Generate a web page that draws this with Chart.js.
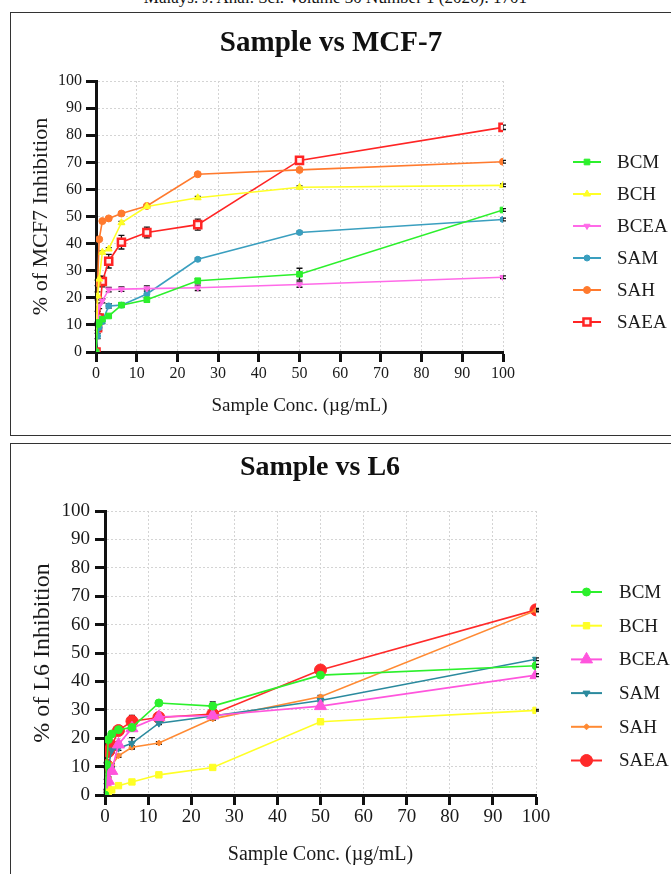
<!DOCTYPE html>
<html>
<head>
<meta charset="utf-8">
<script src="https://cdn.jsdelivr.net/npm/chart.js@4/dist/chart.umd.min.js"></script>
<style>
  body { margin:0; width:671px; height:874px; overflow:hidden; background:#fff; position:relative; font-family:"Liberation Serif", serif; }
  #hdr { position:absolute; left:0; width:671px; top:-12px; text-align:center; font-size:17px; line-height:20px; color:#111; }
  .box { position:absolute; left:10px; width:700px; border:1.5px solid #333; }
  #box1 { top:12px; height:422px; }
  #box2 { top:443px; height:460px; }
  canvas { position:absolute; left:0; }
</style>
</head>
<body>
<div id="hdr">Malays. J. Anal. Sci. Volume 30 Number 1 (2026): 1701</div>
<div class="box" id="box1"></div>
<div class="box" id="box2"></div>
<canvas id="mcf" width="671" height="440" style="top:0"></canvas>
<canvas id="l6" width="671" height="434" style="top:440px"></canvas>
<script>
// concentrations (µg/mL)
const conc = [0, 0.39, 0.78, 1.56, 3.125, 6.25, 12.5, 25, 50, 100];
const labels = ['BCM', 'BCH', 'BCEA', 'SAM', 'SAH', 'SAEA'];
const xTicks = [0, 10, 20, 30, 40, 50, 60, 70, 80, 90, 100];

// --- MCF-7 (% inhibition) ---
const bcmMcf  = [0, 10.2, 10.9, 12.1, 13.3, 17.3, 19.3, 26.3, 28.7, 52.4];
const bchMcf  = [0, 20.7, 26.9, 36.8, 38.0, 47.7, 53.7, 56.9, 60.8, 61.5];
const bceaMcf = [0, 13.0, 17.0, 18.9, 23.0, 23.2, 23.4, 23.7, 24.9, 27.6];
const samMcf  = [0, 5.9, 9.0, 11.3, 17.0, 17.3, 21.4, 34.2, 44.1, 48.9];
const sahMcf  = [0, 25.5, 41.6, 48.3, 49.3, 51.1, 53.9, 65.6, 67.2, 70.2];
const saeaMcf = [0, 9.0, 12.5, 26.0, 33.5, 40.5, 44.1, 47.0, 70.7, 82.9];
// error bars (SD)
const bcmMcfErr  = [0, 0.5, 0.5, 0.5, 0.5, 0.5, 0.8, 0.8, 2.2, 0.5];
const bchMcfErr  = [0, 1.5, 1.0, 0.5, 0.5, 0.5, 0.5, 0.5, 0.5, 0.5];
const bceaMcfErr = [0, 2.0, 1.0, 0.8, 0.8, 0.8, 1.0, 1.0, 1.0, 0.5];
const samMcfErr  = [0, 1.0, 1.0, 0.8, 0.8, 0.8, 1.5, 0.5, 0.5, 0.5];
const sahMcfErr  = [0, 1.0, 0.5, 0.5, 0.5, 0.5, 0.5, 0.5, 0.5, 0.5];
const saeaMcfErr = [0, 1.0, 1.5, 2.0, 2.5, 2.5, 2.0, 2.0, 0.8, 0.8];

// --- L6 (% inhibition) ---
const bcmL6  = [0, 10.7, 19.5, 21.5, 23.0, 23.8, 32.4, 31.3, 42.2, 45.5];
const bchL6  = [0, 0.5, 1.0, 1.8, 3.3, 4.6, 7.1, 9.7, 25.8, 29.8];
const bceaL6 = [0, 3.5, 5.0, 8.5, 17.8, 23.5, 27.5, 28.0, 31.3, 42.2];
const samL6  = [0, 3.0, 10.0, 15.8, 16.5, 18.2, 25.3, 27.8, 33.3, 47.8];
const sahL6  = [0, 1.5, 6.0, 10.5, 13.8, 16.8, 18.3, 26.8, 34.6, 65.0];
const saeaL6 = [0, 10.5, 15.3, 17.3, 22.7, 26.0, 27.3, 28.5, 44.0, 65.2];
const bcmL6Err  = [0, 0.5, 0.5, 0.5, 0.5, 1.0, 0.5, 1.5, 0.5, 0.5];
const bchL6Err  = [0, 0.3, 0.3, 0.3, 0.3, 0.3, 0.3, 0.3, 0.3, 0.3];
const bceaL6Err = [0, 2.0, 1.0, 1.0, 1.0, 1.0, 0.5, 0.5, 0.5, 0.5];
const samL6Err  = [0, 1.0, 1.0, 1.0, 0.8, 2.0, 0.5, 0.5, 0.5, 0.5];
const sahL6Err  = [0, 0.5, 0.5, 0.5, 0.5, 0.5, 0.5, 0.5, 0.5, 0.5];
const saeaL6Err = [0, 1.0, 1.0, 1.0, 0.8, 2.0, 0.5, 0.5, 0.5, 0.5];

const pts = vals => conc.map((x, i) => ({x, y: vals[i]}));

function marker(ctx, ds, x, y) {
  ctx.save();
  ctx.fillStyle = ds.pointBackgroundColor;
  ctx.strokeStyle = ds.pointBorderColor;
  ctx.lineWidth = ds.pointBorderWidth;
  Chart.helpers.drawPoint(ctx, {pointStyle: ds.pointStyle, radius: ds.pointRadius, rotation: ds.pointRotation || 0, borderWidth: ds.pointBorderWidth}, x, y);
  ctx.restore();
}

const errorBars = {
  id: 'errorBars',
  beforeDatasetsDraw(chart) {
    const ctx = chart.ctx, ys = chart.scales.y;
    chart.data.datasets.forEach((ds, di) => {
      const meta = chart.getDatasetMeta(di);
      meta.data.forEach((p, i) => {
        const e = ds.errors[i];
        if (!e) return;
        const yT = ys.getPixelForValue(ds.data[i].y + e), yB = ys.getPixelForValue(ds.data[i].y - e);
        ctx.save();
        ctx.strokeStyle = '#111'; ctx.lineWidth = 1.3;
        ctx.beginPath();
        ctx.moveTo(p.x, yT); ctx.lineTo(p.x, yB);
        ctx.moveTo(p.x - 3, yT); ctx.lineTo(p.x + 3, yT);
        ctx.moveTo(p.x - 3, yB); ctx.lineTo(p.x + 3, yB);
        ctx.stroke();
        ctx.restore();
      });
    });
  }
};

// centred title + legend with line-through markers, placed like the original figure
const sideLegend = {
  id: 'sideLegend',
  afterDraw(chart, args, o) {
    const ctx = chart.ctx;
    ctx.save();
    ctx.fillStyle = '#111';
    ctx.font = 'bold ' + o.tsize + 'px "Liberation Serif"';
    ctx.textAlign = 'center'; ctx.textBaseline = 'middle';
    ctx.fillText(o.title, o.tx, o.ty);
    ctx.restore();
    chart.data.datasets.forEach((ds, i) => {
      const y = o.y0 + i * o.step;
      ctx.save();
      ctx.strokeStyle = ds.borderColor; ctx.lineWidth = 2;
      ctx.beginPath(); ctx.moveTo(o.x1, y); ctx.lineTo(o.x2, y); ctx.stroke();
      ctx.restore();
      marker(ctx, ds, (o.x1 + o.x2) / 2, y);
      ctx.save();
      ctx.fillStyle = '#1a1a1a';
      ctx.font = o.size + 'px "Liberation Serif"';
      ctx.textBaseline = 'middle';
      ctx.fillText(ds.label, o.xt, y + 1);
      ctx.restore();
    });
  }
};

function mkDs(label, vals, errs, color, style, radius, extra) {
  return Object.assign({
    label, data: pts(vals), errors: errs,
    borderColor: color, borderWidth: 1.6,
    pointStyle: style, pointRadius: radius, pointHoverRadius: radius,
    pointBackgroundColor: color, pointBorderColor: color, pointBorderWidth: 1
  }, extra || {});
}

function axisOpts(c) {
  return {
    x: {
      type: 'linear', min: 0, max: 100,
      afterBuildTicks: s => { s.ticks = xTicks.map(v => ({value: v})); },
      afterFit: s => { s.height = c.xh; },
      grid: { color: '#d4d4d4', lineWidth: 1, tickLength: 10, tickColor: '#111', tickWidth: 3 },
      border: { display: true, color: '#111', width: 3, dash: [2, 2] },
      ticks: { color: '#1a1a1a', padding: c.xtp, maxRotation: 0, font: {family: 'Liberation Serif', size: c.tick} },
      title: { display: true, text: 'Sample Conc. (µg/mL)', color: '#1a1a1a', padding: {top: 0, bottom: c.xtb}, font: {family: 'Liberation Serif', size: c.xt} }
    },
    y: {
      min: 0, max: 100,
      afterBuildTicks: s => { s.ticks = xTicks.map(v => ({value: v})); },
      afterFit: s => { s.width = c.yw; },
      grid: { color: '#d4d4d4', lineWidth: 1, tickLength: 10, tickColor: '#111', tickWidth: 3 },
      border: { display: true, color: '#111', width: 3, dash: [2, 2] },
      ticks: { color: '#1a1a1a', padding: c.ytp, font: {family: 'Liberation Serif', size: c.tick} },
      title: { display: true, text: c.ytitle, color: '#1a1a1a', padding: {top: c.ytt, bottom: 0}, font: {family: 'Liberation Serif', size: c.yt} }
    }
  };
}

function makeChart(id, datasets, c) {
  return new Chart(document.getElementById(id), {
    type: 'line',
    data: { datasets },
    plugins: [errorBars, sideLegend],
    options: {
      responsive: false, animation: false,
      layout: { padding: c.pad },
      plugins: {
        legend: { display: false },
        tooltip: { enabled: false },
        title: { display: false },
        sideLegend: c.legend
      },
      scales: axisOpts(c)
    }
  });
}

makeChart('mcf', [
  mkDs('BCM', bcmMcf, bcmMcfErr, '#2cf02c', 'rect', 4),
  mkDs('BCH', bchMcf, bchMcfErr, '#ffff26', 'triangle', 4),
  mkDs('BCEA', bceaMcf, bceaMcfErr, '#ff6ae8', 'triangle', 3.5, {pointRotation: 180}),
  mkDs('SAM', samMcf, samMcfErr, '#3a9fbf', 'circle', 3),
  mkDs('SAH', sahMcf, sahMcfErr, '#ff7a2e', 'circle', 3.5),
  mkDs('SAEA', saeaMcf, saeaMcfErr, '#ff2424', 'rect', 5, {pointBackgroundColor: '#fff0f0', pointBorderWidth: 2.5})
], {
  pad: {left: 20, right: 168, top: 81, bottom: 0},
  xh: 88, yw: 76, xtp: 2, ytp: 4, xtb: 23, ytt: 8, tick: 16, xt: 19, yt: 22,
  ytitle: '% of MCF7 Inhibition',
  legend: {title: 'Sample vs MCF-7', tx: 331, ty: 44, tsize: 29,
           x1: 573, x2: 601, xt: 617, y0: 162, step: 32, size: 19}
});

makeChart('l6', [
  mkDs('BCM', bcmL6, bcmL6Err, '#2cf02c', 'circle', 4),
  mkDs('BCH', bchL6, bchL6Err, '#ffff26', 'rect', 4.5),
  mkDs('BCEA', bceaL6, bceaL6Err, '#ff55dd', 'triangle', 7),
  mkDs('SAM', samL6, samL6Err, '#2b8a9e', 'triangle', 4, {pointRotation: 180}),
  mkDs('SAH', sahL6, sahL6Err, '#ff8a33', 'rectRot', 3),
  mkDs('SAEA', saeaL6, saeaL6Err, '#ff2a2a', 'circle', 6)
], {
  pad: {left: 20, right: 135, top: 71, bottom: 0},
  xh: 79, yw: 85, xtp: 1, ytp: 5, xtb: 7, ytt: 8, tick: 19, xt: 20, yt: 24,
  ytitle: '% of L6 Inhibition',
  legend: {title: 'Sample vs L6', tx: 320, ty: 28, tsize: 28,
           x1: 571, x2: 602, xt: 619, y0: 152, step: 33.7, size: 19}
});
</script>
</body>
</html>
